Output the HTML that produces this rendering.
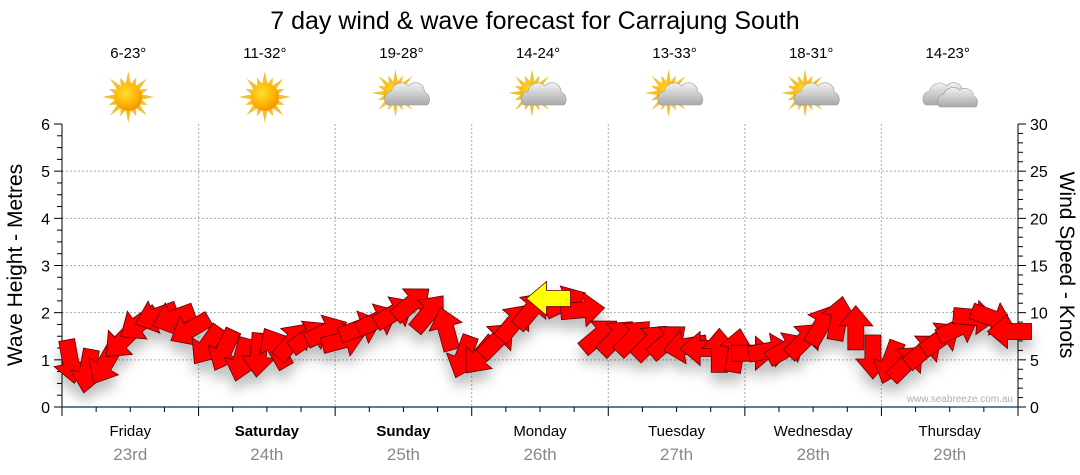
<!DOCTYPE html>
<html><head><meta charset="utf-8"><style>
body{margin:0;background:#fff;}
svg{display:block;font-family:"Liberation Sans",Verdana,sans-serif;}
</style></head><body>
<svg id="c" width="1080" height="475" viewBox="0 0 1080 475">
<defs>
<radialGradient id="sunG" cx="0.4" cy="0.35" r="0.7"><stop offset="0" stop-color="#ffe033"/><stop offset="0.6" stop-color="#ffb400"/><stop offset="1" stop-color="#f08c00"/></radialGradient>
<linearGradient id="cloudG" x1="0" y1="0" x2="0" y2="1"><stop offset="0" stop-color="#f2f2f2"/><stop offset="1" stop-color="#a8a8a8"/></linearGradient>
<filter id="shadow" x="-20%" y="-20%" width="140%" height="160%"><feDropShadow dx="0" dy="10" stdDeviation="6" flood-color="#000" flood-opacity="0.25"/></filter>
</defs>
<text x="535" y="29" font-size="25" text-anchor="middle" fill="#000">7 day wind &amp; wave forecast for Carrajung South</text>
<g id="grid"></g>
<g id="axes"></g>
<g id="icons"></g>
<g id="arrows" filter="url(#shadow)"></g>
<text x="1013" y="402" font-size="10" text-anchor="end" fill="#a8b0b8">www.seabreeze.com.au</text>
<text transform="translate(22,265) rotate(-90)" font-size="21" text-anchor="middle">Wave Height - Metres</text>
<text transform="translate(1060,265) rotate(90)" font-size="21" text-anchor="middle">Wind Speed - Knots</text>
</svg>
<script>
const days = ["Friday","Saturday","Sunday","Monday","Tuesday","Wednesday","Thursday"];
const dates = ["23rd","24th","25th","26th","27th","28th","29th"];
const boldDays = [false,true,true,false,false,false,false];
const temps = ["6-23°","11-32°","19-28°","14-24°","13-33°","18-31°","14-23°"];
const icons = ["sun","sun","partly","partly","partly","partly","cloud"];
const waveTicks = [0,1,2,3,4,5,6];
const windTicks = [0,5,10,15,20,25,30];
const windSpeed = [4.8,3.8,4.5,7,8.8,9.6,9.4,8.2,
  6.5,6,5,5.5,6.3,7,7.5,8,
  7.1,8.4,9.2,10,11,10,8.3,5.3,
  5.4,7.1,9,10.3,11.5,11.1,10.3,7.6,
  7.4,7.4,6.9,7,6.4,6.2,6,6,
  5.7,6,6.2,7.1,8.7,9.4,8.4,5.3,
  4.7,4.7,6,7.3,8.4,9.5,9.4,8];
const windDir = [170,190,210,225,235,250,250,240,
  215,205,195,185,330,40,55,65,
  75,70,65,60,50,40,345,200,
  220,45,40,40,270,65,85,50,
  45,45,45,50,260,270,0,10,
  90,80,60,45,30,10,0,180,
  200,45,50,55,65,95,110,270];
const highlightIdx = 28;

const NS="http://www.w3.org/2000/svg";
const X0=62,X1=1018,Y0=407,Y1=124,DW=(X1-X0)/7;
function mk(tag,attrs,parent){const e=document.createElementNS(NS,tag);for(const k in attrs)e.setAttribute(k,attrs[k]);parent.appendChild(e);return e;}
const yWave=v=>Y0-(v/6)*(Y0-Y1);
const yWind=v=>Y0-(v/30)*(Y0-Y1);
const xTime=t=>X0+(t+0.5)*DW/8;
const grid=document.getElementById('grid'),axes=document.getElementById('axes'),icG=document.getElementById('icons'),arG=document.getElementById('arrows');

waveTicks.forEach(v=>{if(v>0&&v<6){const l=mk('line',{x1:X0,x2:X1,y1:yWave(v),y2:yWave(v),stroke:'#aaa','stroke-dasharray':'2,2'},grid);

}});
for(let d=1;d<7;d++){const l=mk('line',{x1:X0+d*DW,x2:X0+d*DW,y1:Y1,y2:Y0,stroke:'#aaa','stroke-dasharray':'2,2'},grid);

}

mk('line',{x1:X0,x2:X0,y1:Y1,y2:Y0+8,stroke:'#000'},axes);
for(let v=0;v<=6;v+=0.25){const y=yWave(v);mk('line',{x1:X0-(v%1===0?8:5),x2:X0,y1:y,y2:y,stroke:'#000'},axes);}
waveTicks.forEach(v=>{const t=mk('text',{x:50,y:yWave(v)+6,'font-size':16,'text-anchor':'end'},axes);t.textContent=v;

});
mk('line',{x1:X1,x2:X1,y1:Y1,y2:Y0,stroke:'#000'},axes);
for(let v=0;v<=30;v++){const y=yWind(v);mk('line',{x1:X1,x2:X1+(v%5===0?8:5),y1:y,y2:y,stroke:'#000'},axes);}
windTicks.forEach(v=>{const t=mk('text',{x:1030,y:yWind(v)+6,'font-size':16},axes);t.textContent=v;

});
mk('line',{x1:X0,x2:X1,y1:Y0,y2:Y0,stroke:'#1a5a80','stroke-width':1.5},axes);
for(let i=0;i<=28;i++){const x=X0+i*DW/4;mk('line',{x1:x,x2:x,y1:Y0,y2:Y0+(i%4===0?9:5),stroke:'#000'},axes);}
days.forEach((d,i)=>{const cx=X0+(i+0.5)*DW;
const t=mk('text',{x:cx,y:436,'font-size':15,'text-anchor':'middle','font-weight':boldDays[i]?'bold':'normal'},axes);t.textContent=d;


const t2=mk('text',{x:cx,y:460,'font-size':17,'text-anchor':'middle',fill:'#888'},axes);t2.textContent=dates[i];


const t3=mk('text',{x:cx-2,y:58,'font-size':15,'text-anchor':'middle'},axes);t3.textContent=temps[i];


const g=mk('g',{transform:`translate(${cx-2},97)`},icG);


if(icons[i]!=='cloud'){
  const ox=icons[i]==='partly'?-6:0,oy=icons[i]==='partly'?-4:0,r=icons[i]==='partly'?12:14;
  for(let a=0;a<16;a++){const ang=a*Math.PI/8,L=(a%2?r+7:r+12);
    const p1=[ox+Math.cos(ang)*L,oy+Math.sin(ang)*L],pa=[ox+Math.cos(ang+0.18)*r,oy+Math.sin(ang+0.18)*r],pb=[ox+Math.cos(ang-0.18)*r,oy+Math.sin(ang-0.18)*r];
    mk('polygon',{points:`${p1} ${pa} ${pb}`,fill:'#f3c030'},g);}
  mk('circle',{cx:ox,cy:oy,r:r,fill:'url(#sunG)'},g);
}
if(icons[i]!=='sun'){
  const dx=icons[i]==='cloud'?0:8;
  mk('path',{d:`M${dx-22},${8} a8,8 0 0 1 4,-14 a10,10 0 0 1 17,-5 a9,9 0 0 1 16,6 a8,8 0 0 1 3,13 z`,fill:'url(#cloudG)',stroke:'#999','stroke-width':0.6},g);
  if(icons[i]==='cloud') mk('path',{d:`M-8,10 a8,8 0 0 1 4,-13 a10,10 0 0 1 16,-4 a9,9 0 0 1 14,6 a7,7 0 0 1 2,11 z`,fill:'url(#cloudG)',stroke:'#999','stroke-width':0.6},g);
}
});

const arrowPath="M0,-22 L17,-2 L8,-2 L8,22 L-8,22 L-8,-2 L-17,-2 Z";
windSpeed.forEach((s,i)=>{const p=mk('path',{d:arrowPath,transform:`translate(${xTime(i).toFixed(1)},${yWind(s).toFixed(1)}) rotate(${windDir[i]})`,
 fill:i===highlightIdx?'#ffff00':'#ff0000',stroke:'#5a0000','stroke-width':0.8,'stroke-linejoin':'miter'},arG);

});
arG.appendChild(arG.children[highlightIdx]);
</script>
</body></html>
